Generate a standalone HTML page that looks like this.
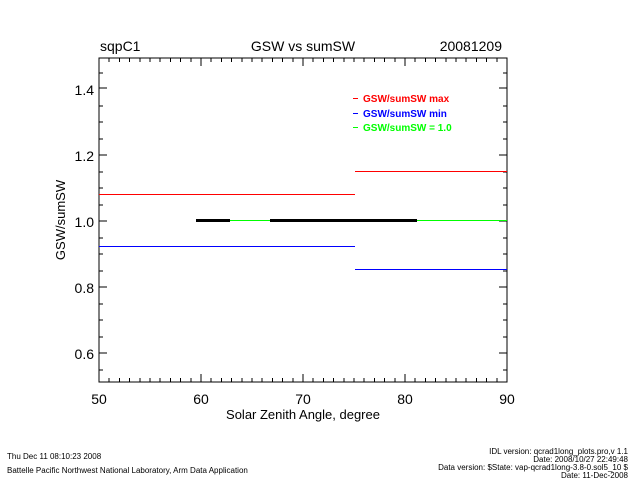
<!DOCTYPE html>
<html><head><style>body{margin:0;background:#fff}svg{display:block}text{font-family:"Liberation Sans",sans-serif}</style></head><body>
<svg width="640" height="480" viewBox="0 0 640 480" xmlns="http://www.w3.org/2000/svg">
<rect width="640" height="480" fill="#fff"/>
<g stroke="#000" stroke-width="1" fill="none" shape-rendering="crispEdges">
<rect x="99" y="58" width="408" height="324"/>
<path d="
M201.0 382v-8M303.0 382v-8M405.0 382v-8
M201.0 58v8M303.0 58v8M405.0 58v8
M109.2 382v-4M119.4 382v-4M129.6 382v-4M139.8 382v-4M150 382v-4M160.2 382v-4M170.4 382v-4M180.6 382v-4M190.8 382v-4
M211.2 382v-4M221.4 382v-4M231.6 382v-4M241.8 382v-4M252 382v-4M262.2 382v-4M272.4 382v-4M282.6 382v-4M292.8 382v-4
M313.2 382v-4M323.4 382v-4M333.6 382v-4M343.8 382v-4M354 382v-4M364.2 382v-4M374.4 382v-4M384.6 382v-4M394.8 382v-4
M415.2 382v-4M425.4 382v-4M435.6 382v-4M445.8 382v-4M456 382v-4M466.2 382v-4M476.4 382v-4M486.6 382v-4M496.8 382v-4
M109.2 58v4M119.4 58v4M129.6 58v4M139.8 58v4M150 58v4M160.2 58v4M170.4 58v4M180.6 58v4M190.8 58v4
M211.2 58v4M221.4 58v4M231.6 58v4M241.8 58v4M252 58v4M262.2 58v4M272.4 58v4M282.6 58v4M292.8 58v4
M313.2 58v4M323.4 58v4M333.6 58v4M343.8 58v4M354 58v4M364.2 58v4M374.4 58v4M384.6 58v4M394.8 58v4
M415.2 58v4M425.4 58v4M435.6 58v4M445.8 58v4M456 58v4M466.2 58v4M476.4 58v4M486.6 58v4M496.8 58v4
M99 88h8M99 155h8M99 221h8M99 287h8M99 353h8
M507 88h-8M507 155h-8M507 221h-8M507 287h-8M507 353h-8
M99 73h4M99 106h4M99 122h4M99 139h4M99 172h4M99 188h4M99 205h4M99 238h4M99 254h4M99 271h4M99 304h4M99 320h4M99 337h4M99 370h4
M507 73h-4M507 106h-4M507 122h-4M507 139h-4M507 172h-4M507 188h-4M507 205h-4M507 238h-4M507 254h-4M507 271h-4M507 304h-4M507 320h-4M507 337h-4M507 370h-4
"/>
</g>
<g shape-rendering="crispEdges">
<line x1="99" y1="194.5" x2="355" y2="194.5" stroke="#f00"/>
<line x1="355" y1="171.5" x2="507" y2="171.5" stroke="#f00"/>
<line x1="99" y1="246.5" x2="355" y2="246.5" stroke="#00f"/>
<line x1="355" y1="269.5" x2="507" y2="269.5" stroke="#00f"/>
<line x1="196" y1="220.5" x2="507" y2="220.5" stroke="#0f0"/>
<rect x="196" y="219" width="34" height="3" fill="#000"/>
<rect x="270" y="219" width="147" height="3" fill="#000"/>
<line x1="353" y1="98.5" x2="358" y2="98.5" stroke="#f00"/>
<line x1="353" y1="113.5" x2="358" y2="113.5" stroke="#00f"/>
<line x1="353" y1="127.5" x2="358" y2="127.5" stroke="#0f0"/>
</g>
<g font-size="10" font-weight="bold">
<text x="363" y="102" fill="#f00">GSW/sumSW max</text>
<text x="363" y="117" fill="#00f">GSW/sumSW min</text>
<text x="363" y="131" fill="#0f0">GSW/sumSW = 1.0</text>
</g>
<g font-size="14" fill="#000">
<text x="100" y="51">sqpC1</text>
<text x="303" y="51" text-anchor="middle">GSW vs sumSW</text>
<text x="502" y="51" text-anchor="end">20081209</text>
<g text-anchor="end">
<text x="94" y="95">1.4</text><text x="94" y="161">1.2</text><text x="94" y="227">1.0</text><text x="94" y="293">0.8</text><text x="94" y="359">0.6</text>
</g>
<g text-anchor="middle">
<text x="99" y="404">50</text><text x="201" y="404">60</text><text x="303" y="404">70</text><text x="405" y="404">80</text><text x="507" y="404">90</text>
</g>
<text x="303" y="419" text-anchor="middle" font-size="13">Solar Zenith Angle, degree</text>
<text transform="translate(65,220) rotate(-90)" text-anchor="middle" font-size="13">GSW/sumSW</text>
</g>
<g font-size="8" fill="#000">
<text x="7" y="459">Thu Dec 11 08:10:23 2008</text>
<text x="7" y="473">Battelle Pacific Northwest National Laboratory, Arm Data Application</text>
<g text-anchor="end">
<text x="628" y="454">IDL version: qcrad1long_plots.pro,v 1.1</text>
<text x="628" y="462">Date: 2008/10/27 22:49:48</text>
<text x="628" y="470">Data version: $State: vap-qcrad1long-3.8-0.sol5_10 $</text>
<text x="628" y="478">Date: 11-Dec-2008</text>
</g>
</g>
</svg>
</body></html>
